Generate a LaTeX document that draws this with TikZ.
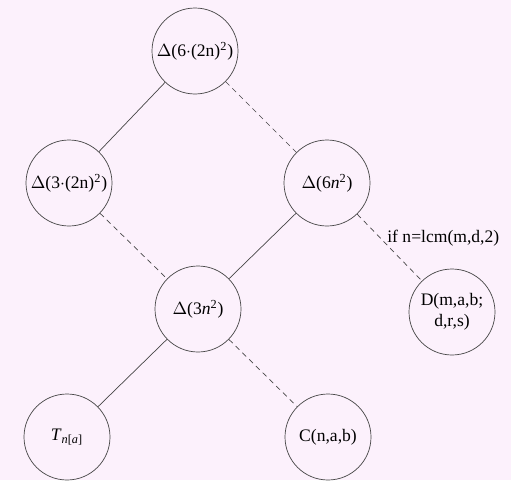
\documentclass[tikz,border=0pt]{standalone}
\usepackage{fontspec}
\setmainfont{Liberation Serif}
\usepackage{xcolor}
\usepackage{tikz}
\usetikzlibrary{positioning}
\definecolor{bgPink}{RGB}{252, 241, 252}
\definecolor{lineGray}{RGB}{70, 70, 70}

\begin{document}
\begin{tikzpicture}[
        font=\normalsize,
        c/.style={circle, draw=lineGray, thin, minimum size=1.72cm, inner sep=0pt, align=center},
        sol/.style={lineGray, thin},
        das/.style={lineGray, thin, dash pattern=on 3pt off 2.4pt}
    ]
    \fill[bgPink] (0,0) rectangle (10.22,9.6);
    \useasboundingbox (0,0) rectangle (10.22,9.6);
    \node[c] (top)  at (3.90,8.58) {$\Delta$(6$\cdot$(2n)\textsuperscript{2})};
    \node[c] (lmid) at (1.38,5.94) {$\Delta$(3$\cdot$(2n)\textsuperscript{2})};
    \node[c] (rmid) at (6.54,5.94) {$\Delta$(6\textit{n}\textsuperscript{2})};
    \node[c] (mid)  at (3.96,3.42) {$\Delta$(3\textit{n}\textsuperscript{2})};
    \node[c] (dd)   at (9.04,3.36) {D(m,a,b;\\d,r,s)};
    \node[c] (tt)   at (1.34,0.86) {\textit{T}\textsubscript{\textit{n}[\textit{a}]}};
    \node[c] (cc)   at (6.56,0.86) {C(n,a,b)};
    \draw[sol] (top) -- (lmid);
    \draw[das] (top) -- (rmid);
    \draw[das] (lmid) -- (mid);
    \draw[sol] (rmid) -- (mid);
    \draw[das] (rmid) -- (dd);
    \draw[sol] (mid) -- (tt);
    \draw[das] (mid) -- (cc);
    \node[anchor=west, inner sep=0pt] (cond) at (7.74,4.84) {if n=lcm(m,d,2)};
\end{tikzpicture}
\end{document}
